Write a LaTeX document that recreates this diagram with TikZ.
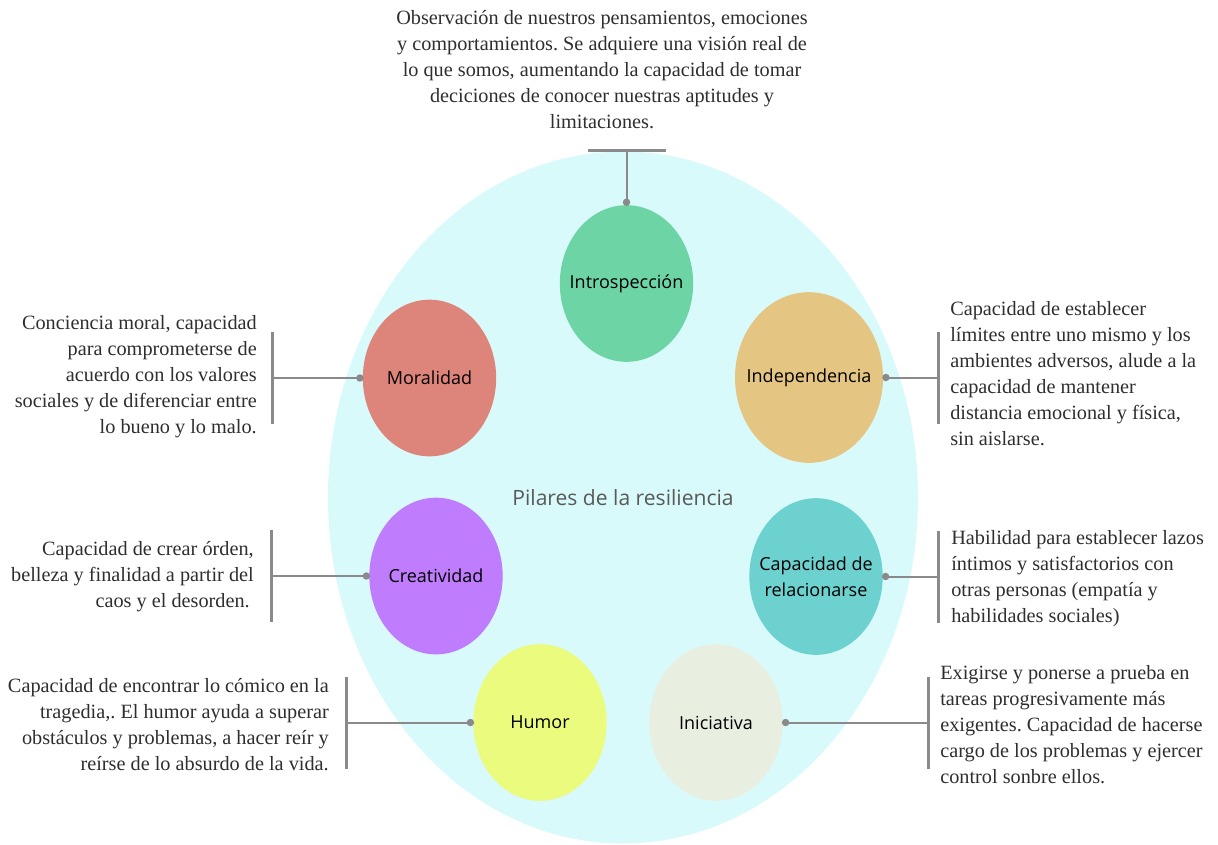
\documentclass[tikz,border=0pt]{standalone}
\usepackage{fontspec}
\setmainfont{Liberation Serif}
\newfontfamily\pilarfont{Open Sans}
\usetikzlibrary{shapes.geometric}
\frenchspacing
\definecolor{fondo}{HTML}{D9FAFB}
\definecolor{linea}{HTML}{8A8A8A}
\definecolor{cIntro}{HTML}{6DD4A6}
\definecolor{cMoral}{HTML}{DE857B}
\definecolor{cIndep}{HTML}{E4C581}
\definecolor{cCrea}{HTML}{BF7CFC}
\definecolor{cRela}{HTML}{6CD1CF}
\definecolor{cHumor}{HTML}{EBFB7D}
\definecolor{cInic}{HTML}{E8EEE0}
\tikzset{pilar/.style={ellipse, minimum width=100pt, minimum height=117.5pt, inner xsep=-30pt, inner ysep=0pt,
    align=center, font=\pilarfont\fontsize{13.5}{19.5}\selectfont},
  nota/.style={inner sep=0pt, text=black!82, font=\fontsize{15.2}{19.5}\selectfont},
  conector/.style={draw=linea, line width=1.5pt},
  barra/.style={draw=linea, line width=2.25pt},
  punto/.style={fill=linea}}

\begin{document}
\begin{tikzpicture}[x=0.75pt, y=-0.75pt]
	\useasboundingbox (0,0) rectangle (1218,844);
	\node[ellipse, fill=fondo, minimum width=442.5pt, minimum height=519pt, inner sep=0pt,
		text=black!65, font=\pilarfont\fontsize{15.8}{18}\selectfont] (base) at (623,497.5) {Pilares de la resiliencia};
	\node[pilar, fill=cIntro] (intro) at (626.5,283.5) {Introspección};
	\node[pilar, fill=cMoral] (moral) at (429.5,378) {Moralidad};
	\node[pilar, fill=cIndep, minimum width=111pt, minimum height=128pt] (indep) at (809,377.5) {Independencia};
	\node[pilar, fill=cCrea] (crea) at (436,576) {Creatividad};
	\node[pilar, fill=cRela] (rela) at (816,576.5) {Capacidad de\\relacionarse};
	\node[pilar, fill=cHumor] (humor) at (540,722.5) {Humor};
	\node[pilar, fill=cInic] (inic) at (716,722.5) {Iniciativa};

	\node[nota, align=center] (tintro) at (602,70) {Observación de nuestros pensamientos, emociones\\
		y comportamientos. Se adquiere una visión real de\\
		lo que somos, aumentando la capacidad de tomar\\
		deciciones de conocer nuestras aptitudes y\\limitaciones.};
	\node[nota, align=right, anchor=east] (tmoral) at (257,377) {Conciencia moral, capacidad\\
		para comprometerse de\\acuerdo con los valores\\
		sociales y de diferenciar entre\\lo bueno y lo malo.};
	\node[nota, align=left, anchor=west] (tindep) at (950,373.5) {Capacidad de establecer\\
		límites entre uno mismo y los\\ambientes adversos, alude a la\\
		capacidad de mantener\\distancia emocional y física,\\sin aislarse.};
	\node[nota, align=right, anchor=east] (tcrea) at (254,576.5) {Capacidad de crear órden,\\
		belleza y finalidad a partir del\\caos y el desorden.\hspace*{3pt}};
	\node[nota, align=left, anchor=west] (trela) at (951,579) {Habilidad para establecer lazos\\
		íntimos y satisfactorios con\\otras personas (empatía y\\habilidades sociales)};
	\node[nota, align=right, anchor=east] (thumor) at (329,724.5) {Capacidad de encontrar lo cómico en la\\
		tragedia,. El humor ayuda a superar\\obstáculos y problemas, a hacer reír y\\
		reírse de lo absurdo de la vida.};
	\node[nota, align=left, anchor=west] (tinic) at (940,725) {Exigirse y ponerse a prueba en\\
		tareas progresivamente más\\exigentes. Capacidad de hacerse\\
		cargo de los problemas y ejercer\\control sonbre ellos.};

	\coordinate (bintro) at (626.5,150);
	\coordinate (bmoral) at (272,378);
	\coordinate (bindep) at (938,377.5);
	\coordinate (bcrea) at (271,576);
	\coordinate (brela) at (938,576.5);
	\coordinate (bhumor) at (346,722.5);
	\coordinate (binic) at (928,722.5);

	\draw[conector] (intro.north) -- (bintro);
	\draw[barra] ([xshift=-29.25pt]bintro) -- ([xshift=29.25pt]bintro);
	\fill[punto] ([yshift=2pt]intro.north) circle (2.8pt);
	\foreach \p/\l in {moral/west, indep/east, crea/west, rela/east, humor/west, inic/east}{
		\draw[conector] (\p.\l) -- (b\p);
		\draw[barra] ([yshift=-34.5pt]b\p) -- ([yshift=34.5pt]b\p);
	}
	\fill[punto] ([xshift=-2pt]moral.west) circle (2.8pt);
	\fill[punto] ([xshift=2pt]indep.east) circle (2.8pt);
	\fill[punto] ([xshift=-2pt]crea.west) circle (2.8pt);
	\fill[punto] ([xshift=2pt]rela.east) circle (2.8pt);
	\fill[punto] ([xshift=-2pt]humor.west) circle (2.8pt);
	\fill[punto] ([xshift=2pt]inic.east) circle (2.8pt);
\end{tikzpicture}
\end{document}
